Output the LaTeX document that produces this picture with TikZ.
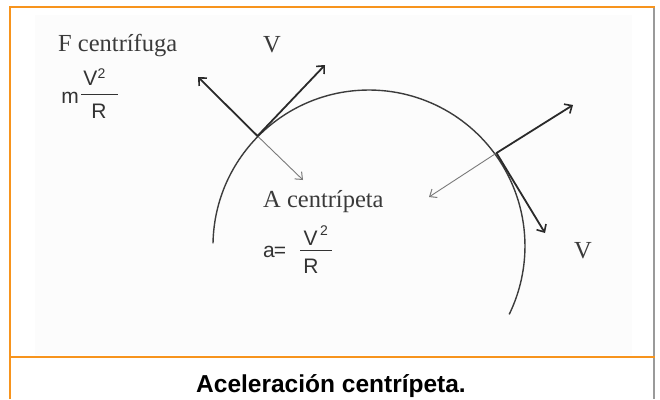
\documentclass[tikz,border=0pt]{standalone}
\usepackage{fontspec}
\setmainfont{Liberation Serif}
\newfontfamily\arialf{Liberation Sans}
\usetikzlibrary{arrows.meta}
\definecolor{frameorange}{HTML}{F7941D}
\definecolor{framegray}{HTML}{9A9A9A}
\definecolor{labelgray}{HTML}{3A3A3A}
\definecolor{eqgray}{HTML}{333333}
\definecolor{arrowdark}{HTML}{2A2A2A}
\definecolor{arrowlight}{HTML}{7A7A7A}
\definecolor{circlegray}{HTML}{3C3C3C}
\definecolor{panelbg}{HTML}{FCFCFC}
\tikzset{
  lbl/.style={font=\fontsize{24.5}{26}\selectfont, text=labelgray, inner sep=0pt},
  eqtxt/.style={font=\arialf\fontsize{21}{23}\selectfont, text=eqgray, inner sep=0pt, anchor=base},
  eqsup/.style={font=\arialf\fontsize{14}{16}\selectfont, text=eqgray, inner sep=0pt, anchor=base},
  heavyarrow/.style={draw=arrowdark, line width=1.8pt, line cap=round,
    -{Straight Barb[length=6pt,width=11pt,line width=1.6pt]}},
  lightarrow/.style={draw=arrowlight, line width=0.9pt, line cap=round,
    -{Straight Barb[length=6pt,width=10pt,line width=1pt]}},
  fracbar/.style={draw=eqgray, line width=1pt}
}
\begin{document}
\begin{tikzpicture}[x=1pt,y=-1pt]
\useasboundingbox (0,0) rectangle (660,399);
% panel background
\fill[panelbg] (35,15) rectangle (632,355);
% frame
\draw[framegray, line width=2pt] (654,7) -- (654,399);
\draw[frameorange, line width=2pt] (10,399) -- (10,7) -- (655,7);
\draw[frameorange, line width=1.3pt] (10,357) -- (655,357);

% circle arc
\coordinate (O) at (369,246);
\draw[circlegray, line width=1.4pt] (213,243.3) arc[start angle=181, end angle=386, radius=156];

% points on the circle
\coordinate (P1) at (257.5,136);
\coordinate (P2) at (496.5,153);
% arrow tips
\coordinate (F1) at (198,77);
\coordinate (V1) at (325,65);
\coordinate (C1) at (303,180);
\coordinate (F2) at (573,105);
\coordinate (C2) at (429,197);
\coordinate (V2) at (545,233);

\draw[lightarrow] (P1) -- (C1);
\draw[lightarrow] (P2) -- (C2);
\draw[heavyarrow] (P1) -- (F1);
\draw[heavyarrow] (P1) -- (V1);
\draw[heavyarrow] (P2) -- (F2);
\draw[heavyarrow] (P2) -- (V2);

% labels
\node[lbl, anchor=base west] (fcen) at (58,51) {F centrífuga};
\node[lbl, anchor=base] (vtop) at (272,52) {V};
\node[lbl, anchor=base west] (acen) at (263,207) {A centrípeta};
\node[lbl, anchor=base] (vright) at (583,258) {V};

% m V^2/R
\node[eqtxt] (m1) at (70,103) {m};
\node[eqtxt] (vnum1) at (90.5,85) {V};
\node[eqsup] (sq1) at (101.5,78) {2};
\node[eqtxt] (rden1) at (99,118) {R};
\draw[fracbar] (81,94) -- (118,94);

% a = V^2/R
\node[eqtxt] (a2) at (269,257) {a};
\node[eqtxt] (eq2) at (280,257) {=};
\node[eqtxt] (vnum2) at (310.5,245) {V};
\node[eqsup] (sq2) at (324,235) {2};
\node[eqtxt] (rden2) at (311,273) {R};
\draw[fracbar] (300,250) -- (332,250);

% caption
\node[font=\arialf\bfseries\fontsize{24.5}{26}\selectfont, text=black, inner sep=0pt, anchor=base] (cap) at (331,392) {Aceleración centrípeta.};
\end{tikzpicture}
\end{document}
